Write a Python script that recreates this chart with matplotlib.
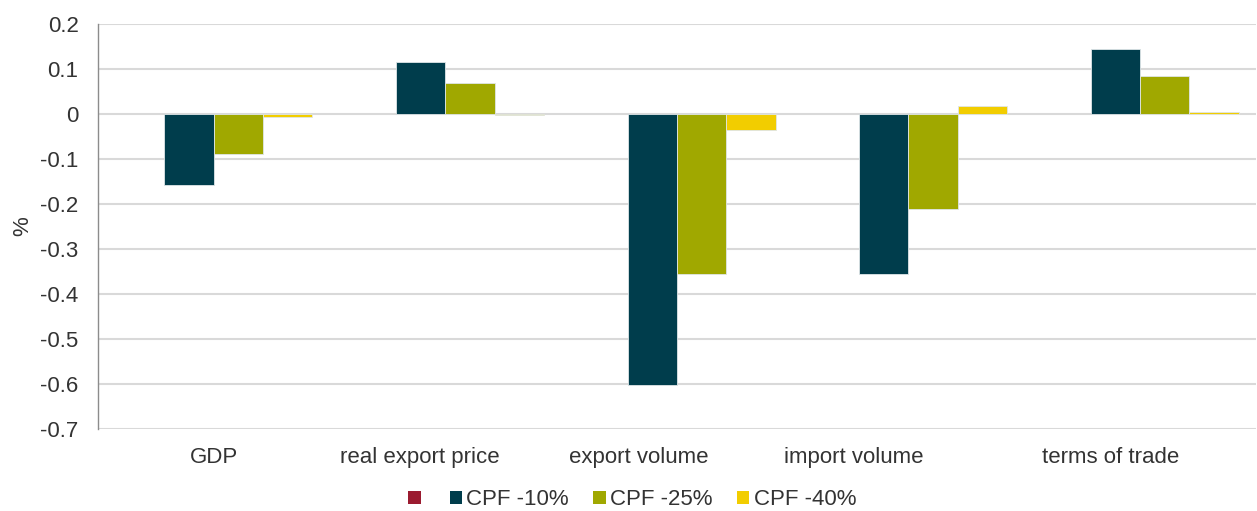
import numpy as np
import matplotlib
matplotlib.use("Agg")
import matplotlib.pyplot as plt
from matplotlib.patches import Patch

plt.rcParams['font.family'] = ['Liberation Sans', 'DejaVu Sans']
plt.rcParams['text.color'] = '#333333'

categories = ["GDP", "real export price", "export volume", "import volume", "terms of trade"]
series_names = ["", "CPF -10%", "CPF -25%", "CPF -40%"]
blank = [np.nan, np.nan, np.nan, np.nan, np.nan]
cpf_10 = [-0.158, 0.116, -0.602, -0.356, 0.145]
cpf_25 = [-0.089, 0.069, -0.356, -0.211, 0.084]
cpf_40 = [-0.007, -0.002, -0.036, 0.017, 0.004]
y_ticks = [0.2, 0.1, 0, -0.1, -0.2, -0.3, -0.4, -0.5, -0.6, -0.7]

colors = ["#9B1B30", "#003D4C", "#A0A800", "#F2CD00"]
# label nudges (in category units) so the text sits where it reads best
label_shift = [0.0, -0.11, -0.165, -0.235, -0.125]

fig = plt.figure(figsize=(12.57, 5.11), dpi=100)
ax = fig.add_axes([0.078, 0.1605, 0.921, 0.7925])

x = np.arange(len(categories))
width = 0.213
all_series = [blank, cpf_10, cpf_25, cpf_40]
for i, (vals, col) in enumerate(zip(all_series, colors)):
    offset = (i - 1.5) * width
    ax.bar(x + offset, vals, width, color=col, edgecolor='#dfe6e8', linewidth=0.6, zorder=3)

ax.set_xlim(-0.5, len(categories) - 0.5)
ax.set_ylim(-0.7, 0.2)
ax.set_yticks(y_ticks)
ax.set_yticklabels([f"{t:g}" for t in y_ticks])
ax.set_xticks(x + np.array(label_shift))
ax.set_xticklabels(categories)
ax.tick_params(axis='y', length=0, pad=14, labelsize=16, labelcolor='#333333')
ax.tick_params(axis='x', length=0, pad=13, labelsize=16, labelcolor='#333333')
ax.grid(axis='y', color='#D9D9D9', linewidth=1.5, zorder=0)
ax.set_axisbelow(True)
for side in ['top', 'right', 'bottom']:
    ax.spines[side].set_visible(False)
ax.spines['left'].set_color('#8C8C8C')
ax.spines['left'].set_linewidth(1.0)
ax.set_ylabel('%', fontsize=16, labelpad=5, color='#333333')

handles = [Patch(facecolor=c, edgecolor='none') for c in colors]
fig.legend(handles, series_names, loc='center', bbox_to_anchor=(0.503, 0.022),
           ncol=4, frameon=False, fontsize=16, handlelength=0.55, handleheight=0.55,
           handletextpad=0.2, columnspacing=1.1)

plt.savefig('out.png', dpi=100)
